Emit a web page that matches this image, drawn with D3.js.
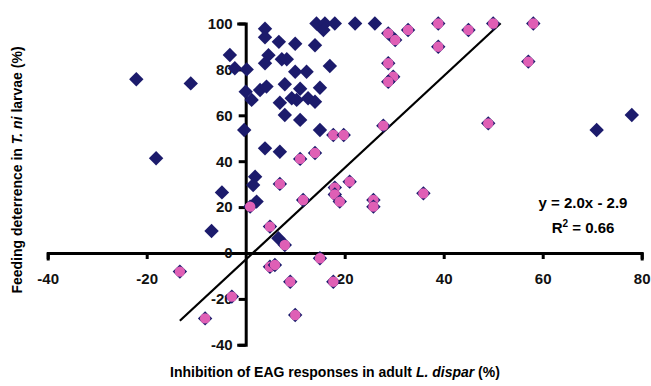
<!DOCTYPE html>
<html>
<head>
<meta charset="utf-8">
<script src="https://cdn.jsdelivr.net/npm/d3@7"></script>
<style>
  body { margin: 0; background: #fff; }
  svg { display: block; font-family: 'Liberation Sans', Arial, sans-serif; font-weight: bold; }
  .axis text { font-size: 15px; font-weight: bold; fill: #111; }
  .axis path, .axis line { stroke: #000; stroke-width: 3; }
</style>
</head>
<body>
<svg id="chart" width="651" height="386"></svg>
<script>
// blue diamonds: inhibition of EAG (x) vs feeding deterrence (y)
const blueInhibition = [-22.1, -11.1, -18.1, -4.8, -6.9, -3.2, -2.2, 0.2, 0, 1.2, -0.3,
  3.9, 3.9, 6.7, 10, 14, 14.3, 16, 18, 22.1, 26.1, 15.7, 4.6, 3.9, 7.3, 8.3, 17, 10, 12.3,
  2.9, 4.2, 7.9, 11, 15, 6.9, 9.3, 10.3, 12.6, 14, 7.9, 11, 15, 3.9, 6.9, 1.9, 1.5, 2.2, 6.6,
  70.9, 78];
const blueDeterrence = [75.7, 73.9, 41.3, 26.4, 9.6, 86.3, 80.5, 80, 70.3, 66.7, 53.6,
  97.7, 94, 92, 91.2, 90.5, 100, 100, 100, 100, 100, 97.2, 86.2, 82.7, 84.4, 84.4, 81.5, 79, 79,
  71, 72.5, 73.5, 71.6, 72, 65.5, 67.4, 66.7, 67.4, 65.9, 60.1, 58, 53.6, 45.6, 44.1, 33.2, 29.6, 22.4, 6.4,
  53.6, 60.1];

// pink diamonds
const pinkInhibition = [28.8, 30.2, 32.8, 38.9, 45, 38.9, 50, 58.1, 57.1, 28.8, 29.8, 28.8, 27.8, 49,
  17.7, 19.8, 14, 11, 6.9, 0.9, 11.6, 18, 18, 19, 21, 25.8, 25.8, 35.9, 4.9, 7.9, 15,
  -13.3, -8.2, -2.8, 4.9, 5.9, 9, 10, 17.7];
const pinkDeterrence = [95.7, 92.8, 97.2, 100, 97.2, 89.9, 100, 100, 83.4, 82.7, 76.8, 74.6, 55.5, 56.5,
  51.4, 51.4, 43.6, 41, 30.1, 20.2, 23.1, 28.5, 25.5, 22.4, 31.1, 23.1, 20.2, 26, 11.5, 3.5, -2.3,
  -8.1, -28.5, -19, -6, -5.2, -12.5, -27, -12.5];

const xTicks = [-40, -20, 20, 40, 60, 80];
const yTicks = [-40, -20, 0, 20, 40, 60, 80, 100];

// linear fit shown on the chart
const fitSlope = 2.0;
const fitIntercept = -2.9;
const fitRange = [-13.3, 51.5];

const navy = '#1c1b6c';
const pink = '#df5fb5';

const svg = d3.select('#chart');

const xScale = d3.scaleLinear().domain([-40, 80]).range([47.7, 641.7]);
const yScale = d3.scaleLinear().domain([-40, 100]).range([344.8, 23.5]);

// plain hyphen minus like the original
const plain = (d) => String(d);

// x axis through y = 0
svg.append('g')
  .attr('class', 'axis x-axis')
  .attr('transform', `translate(0,${yScale(0)})`)
  .call(d3.axisBottom(xScale).tickValues(xTicks).tickSize(6).tickSizeOuter(6).tickPadding(14.7).tickFormat(plain));

// y axis through x = 0
svg.append('g')
  .attr('class', 'axis y-axis')
  .attr('transform', `translate(${xScale(0)},0)`)
  .call(d3.axisLeft(yScale).tickValues(yTicks).tickSize(7).tickSizeOuter(7).tickPadding(6).tickFormat(plain));

svg.selectAll('.axis .domain').attr('stroke-linecap', 'square');

// regression line
svg.append('line')
  .attr('x1', xScale(fitRange[0]))
  .attr('y1', yScale(fitSlope * fitRange[0] + fitIntercept))
  .attr('x2', xScale(fitRange[1]))
  .attr('y2', yScale(fitSlope * fitRange[1] + fitIntercept))
  .attr('stroke', '#000')
  .attr('stroke-width', 2.2);

const diamond = (r) => `M0,${-r}L${r},0L0,${r}L${-r},0Z`;

// blue diamonds
svg.append('g')
  .selectAll('path')
  .data(blueInhibition.map((x, i) => [x, blueDeterrence[i]]))
  .enter()
  .append('path')
  .attr('d', diamond(7.2))
  .attr('transform', (d) => `translate(${xScale(d[0])},${yScale(d[1])})`)
  .attr('fill', navy);

// pink diamonds (navy rim, pink centre)
const pinkGroup = svg.append('g')
  .selectAll('g')
  .data(pinkInhibition.map((x, i) => [x, pinkDeterrence[i]]))
  .enter()
  .append('g')
  .attr('transform', (d) => `translate(${xScale(d[0])},${yScale(d[1])})`);

pinkGroup.append('path').attr('d', diamond(7.2)).attr('fill', navy);
pinkGroup.append('circle').attr('r', 5.2).attr('fill', pink);

// equation
svg.append('text')
  .attr('x', 583)
  .attr('y', 208)
  .attr('text-anchor', 'middle')
  .style('font-size', '15px')
  .text('y = 2.0x - 2.9');

const r2 = svg.append('text')
  .attr('x', 583)
  .attr('y', 233)
  .attr('text-anchor', 'middle')
  .style('font-size', '15px');
r2.append('tspan').text('R');
r2.append('tspan').attr('dy', -6).style('font-size', '10px').text('2');
r2.append('tspan').attr('dy', 6).text(' = 0.66');

// axis titles
const xTitle = svg.append('text')
  .attr('x', 335)
  .attr('y', 377)
  .attr('text-anchor', 'middle')
  .style('font-size', '14px');
xTitle.append('tspan').text('Inhibition of EAG responses in adult ');
xTitle.append('tspan').style('font-style', 'italic').text('L. dispar');
xTitle.append('tspan').text(' (%)');

const yTitle = svg.append('text')
  .attr('transform', 'translate(22,170) rotate(-90)')
  .attr('text-anchor', 'middle')
  .style('font-size', '14px');
yTitle.append('tspan').text('Feeding deterrence in ');
yTitle.append('tspan').style('font-style', 'italic').text('T. ni');
yTitle.append('tspan').text(' larvae (%)');
</script>
</body>
</html>
